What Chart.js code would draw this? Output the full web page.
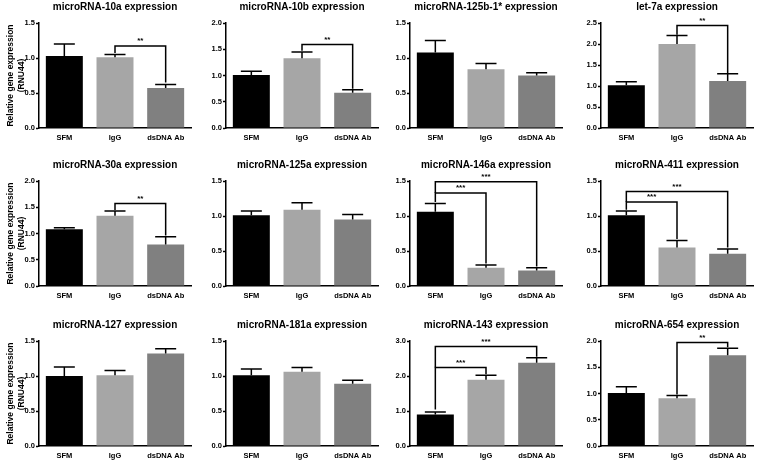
<!DOCTYPE html>
<html>
<head>
<meta charset="utf-8">
<script src="https://cdn.jsdelivr.net/npm/chart.js@4/dist/chart.umd.min.js"></script>
<style>
  body { margin: 0; background: #fff; }
  #wrap { position: relative; width: 760px; height: 460px; overflow: hidden; background: #fff; }
  #wrap canvas { position: absolute; }
</style>
</head>
<body>
<div id="wrap"></div>
<script>
const groups = ['SFM', 'IgG', 'dsDNA Ab'];
const titles = [
  'microRNA-10a expression', 'microRNA-10b expression', 'microRNA-125b-1* expression', 'let-7a expression',
  'microRNA-30a expression', 'microRNA-125a expression', 'microRNA-146a expression', 'microRNA-411 expression',
  'microRNA-127 expression', 'microRNA-181a expression', 'microRNA-143 expression', 'microRNA-654 expression'
];
const means = [
  [1.03, 1.01, 0.57], [1.01, 1.33, 0.67], [1.08, 0.84, 0.75], [1.02, 2.00, 1.12],
  [1.08, 1.34, 0.79], [1.01, 1.09, 0.95], [1.06, 0.26, 0.22], [1.01, 0.55, 0.46],
  [1.00, 1.01, 1.32], [1.01, 1.06, 0.89], [0.90, 1.89, 2.38], [1.01, 0.91, 1.73]
];
const sems = [
  [0.17, 0.04, 0.05], [0.07, 0.12, 0.06], [0.17, 0.08, 0.04], [0.08, 0.20, 0.17],
  [0.03, 0.09, 0.15], [0.06, 0.10, 0.07], [0.12, 0.04, 0.04], [0.06, 0.10, 0.07],
  [0.13, 0.07, 0.07], [0.09, 0.06, 0.05], [0.07, 0.13, 0.14], [0.12, 0.05, 0.13]
];
const yMax = [1.5, 2.0, 1.5, 2.5, 2.0, 1.5, 1.5, 1.5, 1.5, 1.5, 3.0, 2.0];
const yStep = [0.5, 0.5, 0.5, 0.5, 0.5, 0.5, 0.5, 0.5, 0.5, 0.5, 1.0, 0.5];
// significance brackets: [from, to, line height, left leg end, right leg end, label]
const brackets = [
  [[1, 2, 1.17, 1.07, 0.65, '**']],
  [[1, 2, 1.59, 1.47, 0.75, '**']],
  [],
  [[1, 2, 2.44, 2.22, 1.31, '**']],
  [[1, 2, 1.57, 1.45, 0.96, '**']],
  [],
  [[0, 1, 1.33, 1.20, 0.32, '***'], [0, 2, 1.49, 1.33, 0.28, '***']],
  [[0, 1, 1.20, 1.09, 0.67, '***'], [0, 2, 1.35, 1.20, 0.55, '***']],
  [],
  [],
  [[0, 1, 2.24, 1.04, 2.05, '***'], [0, 2, 2.84, 2.24, 2.55, '***']],
  [[1, 2, 1.97, 0.98, 1.88, '**']]
];
const barColors = ['#000000', '#a6a6a6', '#808080'];
const yTitle = ['Relative gene expression', '(RNU44)'];

const FONT = "'Liberation Sans', Arial, sans-serif";
Chart.defaults.font.family = FONT;
Chart.defaults.color = '#000';

const axisX = [39, 226, 410, 601];
const topTick = [23, 181, 341];

function marks(i) {
  return {
    id: 'marks' + i,
    afterDatasetsDraw(chart) {
      const ctx = chart.ctx, y = chart.scales.y;
      const bars = chart.getDatasetMeta(0).data;
      ctx.save();
      ctx.strokeStyle = '#000';
      ctx.lineWidth = 1.5;
      bars.forEach((bar, k) => {
        const top = y.getPixelForValue(means[i][k] + sems[i][k]);
        ctx.beginPath();
        ctx.moveTo(bar.x, bar.y);
        ctx.lineTo(bar.x, top);
        ctx.moveTo(bar.x - 10.5, top);
        ctx.lineTo(bar.x + 10.5, top);
        ctx.stroke();
      });
      ctx.font = 'bold 8px ' + FONT;
      ctx.textAlign = 'center';
      ctx.textBaseline = 'bottom';
      ctx.fillStyle = '#000';
      brackets[i].forEach(([a, b, h, ea, eb, label]) => {
        const xa = bars[a].x, xb = bars[b].x, yt = y.getPixelForValue(h);
        ctx.beginPath();
        ctx.moveTo(xa, y.getPixelForValue(ea));
        ctx.lineTo(xa, yt);
        ctx.lineTo(xb, yt);
        ctx.lineTo(xb, y.getPixelForValue(eb));
        ctx.stroke();
        ctx.fillText(label, (xa + xb) / 2, yt - 1);
      });
      ctx.restore();
    }
  };
}

const wrap = document.getElementById('wrap');
titles.forEach((t, i) => {
  const col = i % 4, row = Math.floor(i / 4);
  const yW = col === 0 ? 39 : 30;
  const cv = document.createElement('canvas');
  const w = yW + 156, h = 147;
  cv.width = w; cv.height = h;
  cv.style.left = (axisX[col] - yW) + 'px';
  cv.style.top = (topTick[row] - 24) + 'px';
  cv.style.width = w + 'px'; cv.style.height = h + 'px';
  wrap.appendChild(cv);

  new Chart(cv, {
    type: 'bar',
    data: {
      labels: groups,
      datasets: [{
        data: means[i],
        backgroundColor: barColors,
        borderWidth: 0,
        barPercentage: 0.73,
        categoryPercentage: 1
      }]
    },
    options: {
      responsive: false,
      animation: false,
      devicePixelRatio: 1,
      layout: { padding: { right: 4, left: 0, top: 0, bottom: 0 } },
      plugins: {
        legend: { display: false },
        tooltip: { enabled: false },
        title: {
          display: true,
          fullSize: false,
          text: t,
          color: '#000',
          font: { size: 10, weight: 'bold', lineHeight: 1.2 },
          padding: { top: 2, bottom: 10 }
        }
      },
      scales: {
        x: {
          grid: { display: false, drawTicks: false },
          border: { display: true, color: '#000', width: 1.5 },
          ticks: { padding: 5, font: { size: 7.5, weight: 'bold' }, color: '#000', maxRotation: 0 },
          afterFit: s => { s.height = 18; }
        },
        y: {
          min: 0,
          max: yMax[i],
          grid: { drawOnChartArea: false, drawTicks: true, tickLength: 3, tickWidth: 1.5, color: '#000' },
          border: { display: true, color: '#000', width: 1.5 },
          ticks: {
            stepSize: yStep[i],
            padding: 1,
            font: { size: 7.5, weight: 'bold' },
            color: '#000',
            callback: v => v.toFixed(1)
          },
          title: {
            display: col === 0,
            text: yTitle,
            color: '#000',
            font: { size: 8.5, weight: 'bold', lineHeight: 1.25 },
            padding: { top: 5.5, bottom: 0 }
          },
          afterFit: s => { s.width = yW; }
        }
      }
    },
    plugins: [marks(i)]
  });
});
</script>
</body>
</html>
